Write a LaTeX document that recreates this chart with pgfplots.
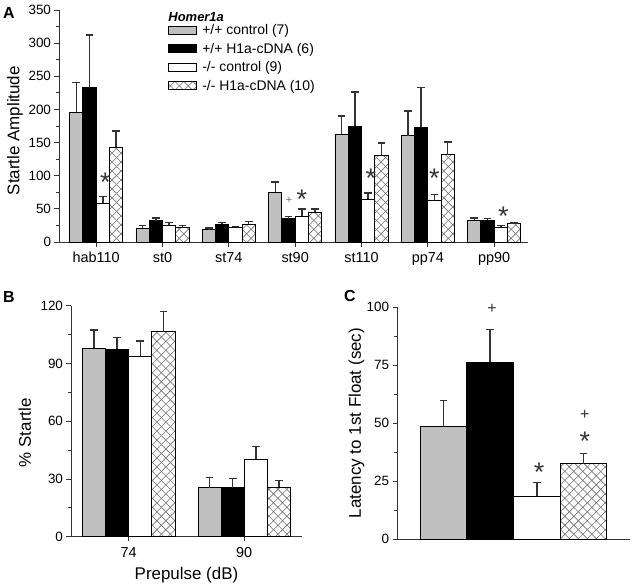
\documentclass[border=0pt]{standalone}
\usepackage{fontspec}
\setmainfont{Liberation Sans}
\usepackage{pgfplots}
\usepackage{pgfplotstable}
\pgfplotsset{compat=1.18}
\usetikzlibrary{patterns}

\pgfdeclarepatternformonly{xhatch}{\pgfqpoint{-1pt}{-1pt}}{\pgfqpoint{10pt}{10pt}}{\pgfqpoint{9pt}{9pt}}{%
  \pgfsetlinewidth{0.6pt}%
  \pgfpathmoveto{\pgfqpoint{0pt}{0pt}}\pgfpathlineto{\pgfqpoint{9pt}{9pt}}%
  \pgfpathmoveto{\pgfqpoint{0pt}{9pt}}\pgfpathlineto{\pgfqpoint{9pt}{0pt}}%
  \pgfusepath{stroke}}

\definecolor{barGray}{HTML}{C0C0C0}
\definecolor{axisCol}{HTML}{333333}

\pgfplotstableread{
x   g     ge    k     ke    w     we    h     he
0   196   44.6  233.5 78.5  58.8  10    142.6 25.1
1   21    4     32    4     25.6  4     22.6  2.4
2   18.6  2.4   27    2.6   22    1.6   27    4
3   75.3  15.1  35    3.7   38.7  11.3  44.7  5
4   162.7 27.7  174.3 52.2  64.8  9     130.6 18.4
5   160   38    173   60    62.3  9     131.6 19.4
6   32.6  3.4   32.6  3.1   22    2.6   28    1
}\dataA

\pgfplotstableread{
x   g     ge    k     ke    w     we    h     he
0   97.8  9.6   97.3  6.2   93.7  7.9   106.5 10.4
1   25.5  5.3   25.5  4.8   40.2  6.6   25.6  3.5
}\dataB

\tikzset{
  annstar/.style={font=\fontsize{27}{27}\selectfont, anchor=base, yshift=-15.5bp, text=axisCol, inner sep=0pt},
  annplus/.style={font=\fontsize{#1}{#1}\selectfont, anchor=base, yshift=-0.35*#1bp, inner sep=0pt},
}

\pgfplotsset{
  panel/.style={
    scale only axis, axis lines*=left, clip=false,
    axis line style={line width=0.9pt, color=axisCol},
    tick align=outside, major tick length=4.5bp, minor tick length=3bp,
    every tick/.style={line width=0.9pt, color=axisCol},
    /pgf/number format/assume math mode=true,
    yticklabel style={font=\fontsize{13.5}{16}\selectfont},
    xticklabel style={font=\fontsize{14.5}{17}\selectfont, yshift=-2.5bp},
    label style={font=\fontsize{17}{20}\selectfont},
    xlabel style={yshift=-3bp},
    minor y tick num=1,
    ymin=0,
  },
  errs/.style={
    error bars/y dir=plus, error bars/y explicit,
    error bars/error bar style={line width=1.5pt, color=axisCol},
    error bars/error mark options={rotate=90, line width=1.5pt, color=axisCol, mark size=3.8bp},
  },
  legendbox/.style={legend image code/.code={\draw[##1, line width=0.8pt] (0bp,-4bp) rectangle (28bp,4bp);}},
  sG/.style={ybar, bar shift=0, fill=barGray, draw=black, line width=0.9pt, legendbox, errs},
  sK/.style={ybar, bar shift=0, fill=black, draw=black, line width=0.9pt, legendbox, errs},
  sW/.style={ybar, bar shift=0, fill=white, draw=black, line width=0.9pt, legendbox, errs},
  sH/.style={ybar, bar shift=0, fill=white, draw=black, line width=0.9pt, postaction={pattern=xhatch, pattern color=black!55}, legendbox, errs},
}

\begin{document}
\begin{tikzpicture}
\path[use as bounding box] (0bp,0bp) rectangle (633bp,-588bp);

% ---------------- Panel A ----------------
\begin{axis}[panel,
  at={(59bp,-242bp)}, anchor=south west, width=469bp, height=232bp,
  xmin=-0.56, xmax=6.51, ymax=350,
  ytick={0,50,...,350},
  xtick={0,...,6}, xticklabels={hab110,st0,st74,st90,st110,pp74,pp90},
  ylabel={Startle Amplitude},
  ylabel style={at={(axis description cs:-0.118,0.48)}, anchor=north},
  legend style={at={(rel axis cs:0.232,0.945)}, anchor=north west, draw=none, fill=none,
    inner sep=0pt, font=\fontsize{14}{16}\selectfont, row sep=3.9bp,
    nodes={inner sep=1.5bp}},
  legend cell align=left,
]
\addplot[sG, bar width=0.2] table[x expr=\thisrow{x}-0.3, y=g, y error=ge] {\dataA};
\addplot[sK, bar width=0.2] table[x expr=\thisrow{x}-0.1, y=k, y error=ke] {\dataA};
\addplot[sW, bar width=0.2] table[x expr=\thisrow{x}+0.1, y=w, y error=we] {\dataA};
\addplot[sH, bar width=0.2] table[x expr=\thisrow{x}+0.3, y=h, y error=he] {\dataA};
\legend{\hspace{4bp}+/+ control (7), \hspace{4bp}+/+ H1a-cDNA (6), \hspace{4bp}-/- control (9), \hspace{4bp}-/- H1a-cDNA (10)}
\node[anchor=base west, font=\fontsize{13}{15}\selectfont\bfseries\itshape, inner sep=0pt]
  at (rel axis cs:0.233,0.952) {Homer1a};
\node[annstar] at (axis cs:0.14,99) {*};
\node[annstar] at (axis cs:3.1,74) {*};
\node[annstar] at (axis cs:4.14,106) {*};
\node[annstar] at (axis cs:5.1,105) {*};
\node[annstar] at (axis cs:6.14,47.7) {*};
\node[annplus=11, text=black!55] at (axis cs:2.91,64) {+};
\end{axis}

% ---------------- Panel B ----------------
\begin{axis}[panel,
  at={(71bp,-536.7bp)}, anchor=south west, width=231bp, height=231bp,
  xmin=-0.5, xmax=1.5, ymax=120,
  ytick={0,30,...,120},
  xtick={0,1}, xticklabels={74,90},
  ylabel={\% Startle},
  ylabel style={at={(axis description cs:-0.242,0.45)}, anchor=north},
  xlabel={Prepulse (dB)},
]
\addplot[sG, bar width=0.2] table[x expr=\thisrow{x}-0.3, y=g, y error=ge] {\dataB};
\addplot[sK, bar width=0.2] table[x expr=\thisrow{x}-0.1, y=k, y error=ke] {\dataB};
\addplot[sW, bar width=0.2] table[x expr=\thisrow{x}+0.1, y=w, y error=we] {\dataB};
\addplot[sH, bar width=0.2] table[x expr=\thisrow{x}+0.3, y=h, y error=he] {\dataB};
\end{axis}

% ---------------- Panel C ----------------
\begin{axis}[panel,
  at={(397bp,-539bp)}, anchor=south west, width=233bp, height=232bp,
  xmin=0, xmax=5, ymax=100,
  ytick={0,25,...,100},
  xtick=\empty,
  ylabel={Latency to 1st Float (sec)},
  ylabel style={at={(axis description cs:-0.223,0.5)}, anchor=north},
]
\addplot[sG, bar width=1] coordinates {(1,48.6) +- (0,11)};
\addplot[sK, bar width=1] coordinates {(2,76.1) +- (0,14.1)};
\addplot[sW, bar width=1] coordinates {(3,18.4) +- (0,5.9)};
\addplot[sH, bar width=1] coordinates {(4,32.5) +- (0,4.3)};
\node[annplus=16, text=axisCol] at (axis cs:2.04,99.4) {+};
\node[annstar] at (axis cs:3.05,31.3) {*};
\node[annplus=16, text=axisCol] at (axis cs:4.03,53.9) {+};
\node[annstar] at (axis cs:4.03,44.7) {*};
\end{axis}

% panel letters
\node[anchor=base west, font=\fontsize{16}{18}\selectfont\bfseries, inner sep=0pt] at (3bp,-18.5bp) {A};
\node[anchor=base west, font=\fontsize{16}{18}\selectfont\bfseries, inner sep=0pt] at (3bp,-302bp) {B};
\node[anchor=base west, font=\fontsize{16}{18}\selectfont\bfseries, inner sep=0pt] at (344bp,-301bp) {C};
\end{tikzpicture}
\end{document}
